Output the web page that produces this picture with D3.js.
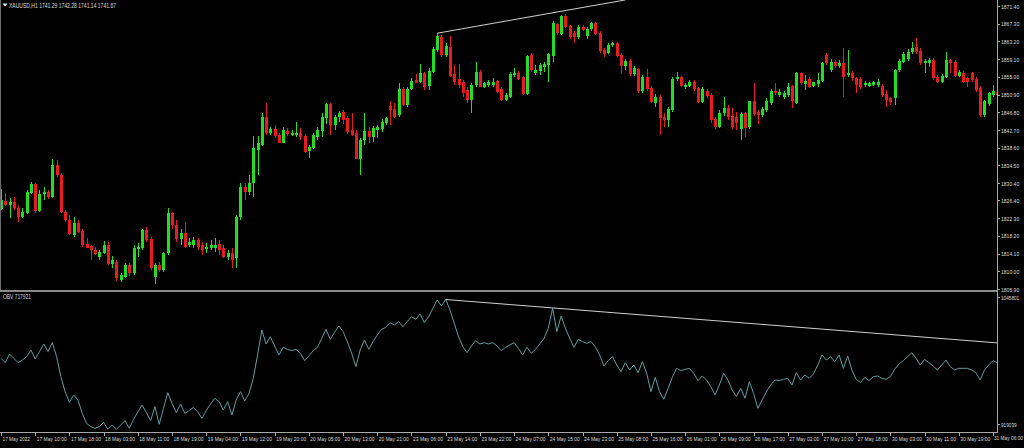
<!DOCTYPE html>
<html><head><meta charset="utf-8">
<script src="https://cdn.jsdelivr.net/npm/d3@7"></script>
<style>html,body{margin:0;padding:0;background:#000;overflow:hidden}svg{display:block}</style>
</head><body><svg id="c" width="1024" height="448"></svg>
<script>
// ---------- data ----------
const symbolLabel = "XAUUSD,H1";
const headerValues = "1741.29 1742.28 1741.14 1741.67";
const obvLabel = "OBV 717921";
const timeLabels = ["17 May 2022","17 May 10:00","17 May 18:00","18 May 03:00","18 May 11:00","18 May 19:00","19 May 04:00","19 May 12:00","19 May 20:00","20 May 05:00","20 May 13:00","20 May 21:00","23 May 06:00","23 May 14:00","23 May 22:00","24 May 07:00","24 May 15:00","24 May 23:00","25 May 08:00","25 May 16:00","26 May 01:00","26 May 09:00","26 May 17:00","27 May 02:00","27 May 10:00","27 May 18:00","30 May 03:00","30 May 11:00","30 May 19:00","31 May 06:00"];
const timeLabelStep = 8; // bars between time labels
const priceTicks = [1871.40,1867.30,1863.20,1859.10,1855.00,1850.90,1846.80,1842.70,1838.60,1834.50,1830.40,1826.40,1822.30,1818.20,1814.10,1810.00,1805.90];
const obvTicks = [1045801, 919039];

const open = [1824.4,1826.3,1825.3,1826.1,1824.6,1822.6,1823.6,1828.2,1830.2,1824.0,1827.8,1828.4,1827.3,1834.6,1832.3,1823.8,1821.9,1818.4,1821.2,1819.4,
1816.2,1815.8,1814.9,1813.4,1814.2,1816.1,1811.8,1812.2,1808.0,1808.7,1811.5,1809.5,1815.1,1815.3,1819.6,1817.4,1808.7,1811.5,1810.3,1814.2,
1823.4,1820.7,1817.4,1818.8,1816.1,1816.1,1817.2,1816.1,1815.1,1815.3,1815.3,1816.2,1815.5,1813.4,1814.2,1813.0,1822.6,1829.6,1828.4,1830.4,
1838.1,1839.2,1845.6,1842.1,1842.9,1841.5,1839.8,1842.5,1841.5,1841.5,1842.1,1841.3,1837.9,1838.5,1841.1,1842.5,1845.4,1848.7,1843.9,1845.6,
1846.9,1845.4,1842.7,1842.1,1836.1,1840.4,1842.5,1841.1,1842.7,1842.9,1844.3,1848.3,1847.5,1846.2,1852.1,1848.5,1852.3,1854.3,1853.9,1856.0,
1852.9,1856.2,1861.2,1864.2,1860.1,1862.0,1855.7,1854.4,1853.9,1852.0,1849.7,1853.1,1856.2,1852.7,1853.1,1853.1,1854.1,1852.1,1849.7,1850.4,
1855.4,1855.9,1854.9,1851.0,1860.1,1855.8,1856.4,1857.3,1857.7,1859.8,1867.2,1864.9,1869.1,1866.8,1865.2,1864.2,1866.5,1864.5,1866.0,1867.5,
1865.2,1861.2,1860.6,1862.4,1862.9,1860.1,1857.5,1858.7,1855.7,1856.8,1851.8,1854.9,1852.4,1849.0,1850.4,1845.8,1845.0,1847.3,1854.4,1854.9,
1852.6,1852.9,1853.9,1852.4,1849.2,1851.8,1850.8,1845.2,1843.5,1846.6,1847.7,1845.9,1845.8,1842.9,1846.6,1843.3,1849.3,1846.9,1846.2,1847.3,
1848.9,1851.8,1850.8,1850.3,1850.8,1852.9,1849.0,1855.8,1853.3,1854.4,1852.9,1853.4,1854.1,1860.1,1856.6,1858.5,1857.5,1858.1,1855.4,1856.0,
1854.7,1854.4,1853.0,1852.9,1853.1,1853.1,1852.9,1851.0,1850.0,1850.0,1856.6,1858.5,1859.1,1860.8,1861.8,1861.1,1858.3,1858.3,1858.9,1855.0,
1853.9,1855.0,1858.9,1858.5,1855.2,1856.0,1854.7,1855.8,1854.4,1852.4,1846.2,1848.7,1850.8,1851.6];
const high = [1829.0,1828.2,1827.0,1827.3,1825.3,1824.6,1828.8,1830.7,1830.5,1828.8,1829.6,1828.8,1835.9,1835.8,1832.7,1824.2,1823.0,1822.6,1821.9,1819.9,
1817.6,1816.1,1815.7,1814.9,1817.1,1816.8,1813.5,1812.6,1809.5,1811.9,1812.0,1816.1,1816.5,1819.9,1820.2,1817.9,1811.9,1812.2,1814.5,1824.6,
1823.8,1821.9,1819.9,1821.5,1817.6,1818.0,1817.6,1816.8,1816.5,1817.2,1817.6,1817.2,1816.1,1814.9,1815.3,1823.0,1830.4,1830.4,1832.3,1841.3,
1841.3,1846.7,1849.0,1843.5,1843.9,1842.1,1843.5,1843.1,1842.7,1844.6,1843.1,1841.8,1839.2,1841.9,1843.5,1846.7,1849.0,1849.0,1846.2,1847.2,
1847.3,1845.9,1846.7,1842.7,1840.8,1846.6,1843.5,1843.6,1843.9,1845.2,1845.8,1849.3,1848.9,1853.5,1852.7,1852.7,1854.7,1855.7,1858.0,1856.2,
1857.0,1862.0,1865.1,1864.7,1862.8,1864.5,1857.7,1858.0,1854.3,1852.6,1853.5,1858.5,1856.6,1853.8,1854.3,1854.7,1854.3,1852.6,1851.2,1856.2,
1857.0,1856.4,1855.2,1860.1,1860.6,1857.8,1858.3,1858.5,1860.6,1868.0,1867.5,1869.3,1869.5,1867.0,1865.7,1867.0,1867.0,1866.5,1867.8,1867.8,
1865.5,1861.6,1862.9,1863.1,1863.1,1860.5,1859.1,1859.1,1857.4,1857.0,1855.4,1856.8,1852.9,1851.0,1850.8,1846.6,1848.0,1855.0,1856.2,1855.2,
1853.5,1854.3,1854.3,1852.7,1852.6,1852.1,1851.2,1845.6,1847.3,1850.4,1848.5,1847.7,1846.9,1846.9,1846.9,1849.5,1853.5,1847.3,1848.0,1850.0,
1852.1,1853.5,1852.1,1851.8,1853.5,1853.1,1856.2,1856.2,1855.4,1855.0,1853.9,1855.8,1858.5,1860.6,1859.1,1858.9,1858.9,1861.6,1861.2,1856.4,
1855.0,1855.0,1854.0,1853.9,1854.1,1854.4,1853.3,1851.9,1850.4,1856.8,1859.1,1860.8,1861.4,1863.1,1863.9,1861.6,1859.1,1859.3,1859.3,1855.4,
1855.6,1860.8,1859.1,1858.9,1856.6,1856.4,1855.0,1856.2,1854.9,1852.9,1849.6,1851.6,1853.1,1852.1];
const low = [1824.2,1825.1,1822.3,1824.2,1821.5,1822.3,1823.3,1827.9,1823.4,1823.7,1826.5,1826.7,1827.0,1831.9,1823.4,1821.5,1818.4,1817.9,1818.8,1815.7,
1815.3,1812.6,1813.8,1812.6,1814.0,1811.5,1810.8,1807.8,1807.6,1808.4,1809.0,1809.1,1813.4,1814.9,1816.8,1810.3,1807.0,1809.9,1809.9,1813.8,
1819.9,1816.8,1816.1,1815.3,1815.7,1815.3,1814.9,1813.8,1814.2,1814.9,1814.5,1813.8,1813.0,1812.6,1810.7,1810.7,1821.9,1826.5,1827.7,1827.3,
1832.3,1839.0,1841.5,1841.5,1840.8,1839.6,1839.6,1841.3,1841.2,1841.0,1840.5,1837.3,1836.2,1838.2,1840.4,1841.0,1844.2,1841.5,1842.7,1844.6,
1844.2,1841.8,1841.2,1835.9,1832.3,1839.2,1839.6,1840.0,1840.8,1842.3,1843.9,1843.9,1845.4,1845.8,1848.3,1848.1,1852.0,1853.5,1853.5,1852.0,
1852.0,1855.8,1860.8,1859.7,1859.5,1854.9,1853.1,1852.4,1850.4,1848.9,1846.7,1852.7,1852.6,1852.4,1852.7,1852.6,1851.2,1849.3,1849.3,1850.0,
1855.0,1854.3,1850.8,1850.8,1856.2,1855.4,1855.4,1856.2,1853.7,1858.5,1864.7,1864.7,1866.2,1863.7,1862.8,1863.7,1865.5,1863.7,1865.7,1864.7,
1860.6,1859.5,1860.3,1862.0,1859.5,1855.7,1856.6,1855.2,1855.2,1851.3,1851.2,1851.8,1848.9,1848.0,1841.5,1843.5,1843.3,1846.9,1854.1,1852.6,
1852.1,1852.6,1851.8,1848.9,1849.0,1850.0,1844.4,1842.9,1843.1,1845.9,1845.0,1842.9,1842.7,1840.4,1841.0,1842.9,1845.9,1844.1,1845.6,1846.9,
1848.5,1850.8,1850.4,1849.8,1850.4,1847.7,1848.7,1853.1,1852.0,1852.4,1852.6,1852.7,1853.7,1857.8,1856.2,1857.0,1857.1,1850.4,1855.0,1854.1,
1851.2,1852.1,1852.7,1852.6,1852.9,1852.7,1850.4,1848.1,1848.5,1848.5,1856.2,1858.2,1858.7,1860.4,1860.4,1857.8,1855.8,1857.3,1854.3,1853.5,
1853.5,1854.7,1855.8,1854.9,1854.9,1853.5,1852.6,1853.9,1851.6,1845.6,1845.6,1848.3,1850.4,1850.4];
const close = [1826.5,1825.3,1826.1,1824.6,1822.6,1823.8,1828.4,1830.2,1824.0,1827.9,1828.3,1827.3,1834.6,1832.3,1823.8,1821.9,1818.6,1821.2,1819.2,1816.1,
1815.5,1814.9,1814.0,1814.5,1816.1,1811.8,1812.6,1808.4,1809.1,1811.5,1809.5,1815.3,1815.7,1819.6,1817.2,1810.7,1811.5,1810.2,1814.2,1823.4,
1820.7,1817.4,1818.8,1815.7,1816.8,1817.2,1815.7,1814.9,1815.7,1816.1,1816.1,1814.9,1813.4,1814.2,1812.6,1822.6,1829.6,1828.4,1830.4,1838.5,
1839.6,1845.6,1842.1,1842.9,1841.3,1839.8,1842.7,1841.8,1841.9,1841.9,1841.0,1837.7,1838.7,1841.5,1842.7,1845.6,1848.7,1843.9,1845.6,1846.7,
1845.0,1842.3,1841.5,1836.1,1840.5,1842.5,1841.1,1843.1,1843.5,1844.6,1845.4,1847.3,1845.6,1852.1,1848.5,1852.1,1854.1,1853.6,1856.0,1852.7,
1856.4,1861.4,1864.5,1860.1,1862.1,1855.2,1853.9,1853.1,1851.3,1849.7,1853.1,1856.2,1852.7,1853.5,1853.7,1853.9,1851.6,1849.7,1850.8,1855.7,
1855.9,1854.6,1851.0,1859.8,1856.6,1856.7,1857.8,1858.0,1860.3,1867.4,1865.1,1869.1,1866.6,1864.2,1864.2,1866.6,1865.9,1866.0,1867.4,1864.9,
1861.1,1860.4,1862.4,1862.9,1859.8,1857.5,1858.7,1855.7,1857.0,1851.8,1854.9,1852.1,1849.2,1850.4,1845.4,1845.0,1847.5,1854.4,1854.9,1852.9,
1853.1,1853.9,1852.1,1849.2,1852.1,1850.6,1844.9,1843.5,1846.7,1847.7,1845.6,1843.5,1844.3,1846.4,1843.1,1849.3,1846.4,1846.2,1847.5,1849.5,
1851.8,1851.3,1851.6,1851.2,1852.7,1849.3,1856.0,1853.5,1854.1,1852.7,1853.7,1854.3,1858.1,1858.1,1858.5,1857.4,1858.1,1855.0,1856.0,1854.7,
1853.1,1852.7,1853.5,1853.5,1853.7,1853.9,1850.8,1849.7,1849.2,1856.6,1858.7,1860.3,1860.8,1861.6,1860.8,1858.3,1858.7,1858.9,1854.7,1853.9,
1855.2,1858.9,1858.1,1855.2,1856.2,1853.9,1853.9,1854.3,1852.0,1846.2,1849.3,1851.2,1851.7,1850.8];
const obv = [987950,983730,992180,987950,983730,986330,989580,996080,987300,994450,1001930,994450,1003230,989580,970080,955450,945050,952200,947330,934330,
924580,921330,919700,921330,925550,918730,922950,918730,922950,927180,919700,928480,935630,942450,934980,927180,940830,923600,939200,954480,
944080,934980,943430,934330,936930,940180,935950,929450,936930,943430,948950,945700,937580,945700,932700,947330,955450,946350,953830,968450,
991200,1015580,1001930,1009080,999980,991200,998680,996730,995430,996730,992830,985680,990230,995430,998680,1007450,1016230,1006480,1013300,1019480,
1013950,1004200,992830,979830,996080,1005830,996730,1004200,1010700,1016230,1018180,1022730,1020450,1023700,1018830,1023700,1028580,1025980,1031180,1022730,
1028580,1036700,1044830,1038980,1045480,1035080,1022080,1009080,999330,993480,999980,1005180,1001930,1003230,1001930,1003230,999980,995430,998680,1000950,
1003230,997700,991200,998680,992830,996730,1001930,1007450,1017200,1036700,1013950,1029230,1017200,1007450,998680,1006480,1004200,1002580,1004200,999330,
991200,980480,985680,989580,981450,974950,983730,976580,981450,973980,984700,973330,955450,969430,955450,947980,958700,969430,978200,975930,
977230,978200,973330,966180,970730,966830,960330,952200,961950,973330,966830,957080,950580,958700,948950,965200,953830,939200,947330,955450,
961950,966830,966180,967480,968450,961950,973980,966830,971700,968450,972680,981450,991200,986330,989580,984700,991200,978200,990230,976580,
967480,964230,969430,966180,970080,970730,968450,967480,970080,977230,982430,985680,989580,993480,987950,981450,986980,983730,980480,976580,
981450,986330,979830,976580,978200,978200,978200,976580,973980,966830,976580,981450,985680,983730];
const priceTrend = [[102, 1865.1], [146, 1872.8]];   // [bar index, price]
const obvTrend = [[104, 1045300], [233, 1003000]];   // [bar index, OBV]

// ---------- layout ----------
const W = 1024, H = 448;
const plotL = 0, plotR = 997;
const mainT = 0, mainB = 290;
const obvT = 293, obvB = 432;
const axisFont = "'Liberation Sans', Arial, sans-serif";
const textCol = "#dcdcdc", axisCol = "#a8a8a8";
const bullCol = "#22dd22", bearCol = "#e81c1c", obvCol = "#5f9ea0", trendCol = "#cfcfcf";

const svg = d3.select("#c");
svg.append("rect").attr("width", W).attr("height", H).attr("fill", "#000");

const n = open.length;
const x = d3.scaleLinear().domain([0, n - 1]).range([1, 1 + (n - 1) * 4.276]);
const y = d3.scaleLinear().domain([1805.9, 1871.4]).range([289, 6]);
const yo = d3.scaleLinear().domain([919039, 1045801]).range([429, 299]);

const defs = svg.append("defs");
defs.append("clipPath").attr("id", "cm").append("rect").attr("x", plotL).attr("y", mainT).attr("width", plotR - plotL).attr("height", mainB - mainT);
defs.append("clipPath").attr("id", "co").append("rect").attr("x", plotL).attr("y", obvT).attr("width", plotR - plotL).attr("height", obvB - obvT);

// candles
const gC = svg.append("g").attr("clip-path", "url(#cm)").attr("shape-rendering", "crispEdges");
const idx = d3.range(n);
gC.selectAll("rect.w").data(idx).join("rect").attr("class", "w")
  .attr("x", i => Math.round(x(i)))
  .attr("width", 1)
  .attr("y", i => Math.round(y(high[i])))
  .attr("height", i => Math.max(1, Math.round(y(low[i])) - Math.round(y(high[i]))))
  .attr("fill", i => close[i] >= open[i] ? bullCol : bearCol);
gC.selectAll("rect.b").data(idx).join("rect").attr("class", "b")
  .attr("x", i => Math.round(x(i)) - 1)
  .attr("width", 3)
  .attr("y", i => Math.round(y(Math.max(open[i], close[i]))))
  .attr("height", i => Math.max(1, Math.round(y(Math.min(open[i], close[i]))) - Math.round(y(Math.max(open[i], close[i])))))
  .attr("fill", i => close[i] >= open[i] ? bullCol : bearCol);

// price trendline (clipped at the panel top)
gC.append("line")
  .attr("x1", x(priceTrend[0][0])).attr("y1", y(priceTrend[0][1]))
  .attr("x2", x(priceTrend[1][0])).attr("y2", y(priceTrend[1][1]))
  .attr("stroke", trendCol).attr("stroke-width", 1).attr("shape-rendering", "auto");

// OBV line
const gO = svg.append("g").attr("clip-path", "url(#co)");
gO.append("path").datum(obv)
  .attr("d", d3.line().x((d, i) => x(i)).y(d => yo(d)))
  .attr("fill", "none").attr("stroke", obvCol).attr("stroke-width", 1);
gO.append("line")
  .attr("x1", x(obvTrend[0][0])).attr("y1", yo(obvTrend[0][1]))
  .attr("x2", x(obvTrend[1][0])).attr("y2", yo(obvTrend[1][1]))
  .attr("stroke", trendCol).attr("stroke-width", 1);

// frame lines
const gF = svg.append("g").attr("shape-rendering", "crispEdges");
gF.append("rect").attr("x", 0).attr("y", 290).attr("width", plotR + 1).attr("height", 2).attr("fill", "#8a8a8a");
gF.append("line").attr("x1", plotR + 0.5).attr("x2", plotR + 0.5).attr("y1", 0).attr("y2", obvB + 1).attr("stroke", axisCol);
gF.append("line").attr("x1", 0).attr("x2", plotR + 1).attr("y1", obvB + 0.5).attr("y2", obvB + 0.5).attr("stroke", axisCol);
gF.append("line").attr("x1", 0.5).attr("x2", 0.5).attr("y1", 0).attr("y2", mainB).attr("stroke", "#6a6a6a");

// price axis
const pAxis = d3.axisRight(y).tickValues(priceTicks).tickSize(3).tickFormat(d3.format(".2f"));
const gP = svg.append("g").attr("transform", `translate(${plotR},0)`).call(pAxis);
const oAxis = d3.axisRight(yo).tickValues(obvTicks).tickSize(3).tickFormat(d3.format("d"));
const gOA = svg.append("g").attr("transform", `translate(${plotR},0)`).call(oAxis);
// OBV labels sit inside the panel edges
gOA.selectAll(".tick").attr("transform", d => `translate(0,${d === obvTicks[0] ? 297.5 : 424.5})`);
[gP, gOA].forEach(g => {
  g.select(".domain").remove();
  g.selectAll("line").attr("stroke", axisCol).attr("shape-rendering", "crispEdges");
  g.selectAll("text").attr("fill", textCol).attr("font-family", axisFont).attr("font-size", 5.8)
    .attr("x", 4).attr("dy", "0.35em")
    .attr("textLength", function () { return this.textContent.length * 2.6; })
    .attr("lengthAdjust", "spacingAndGlyphs");
});

// time axis
const tickIdx = timeLabels.map((t, k) => k * timeLabelStep);
const tAxis = d3.axisBottom(x).tickValues(tickIdx).tickSize(3).tickFormat((d, k) => timeLabels[k]);
const gT = svg.append("g").attr("transform", `translate(0,${obvB + 1})`).call(tAxis);
gT.select(".domain").remove();
gT.selectAll("line").attr("stroke", axisCol).attr("shape-rendering", "crispEdges");
gT.selectAll("text").attr("fill", textCol).attr("font-family", axisFont).attr("font-size", 5.4)
  .attr("text-anchor", "start").attr("x", 1).attr("y", 4).attr("dy", "0.71em")
  .attr("textLength", function () { return this.textContent.length * 2.5; })
  .attr("lengthAdjust", "spacingAndGlyphs");
// the last label is drawn a touch smaller so it fits inside the window's right edge
gT.selectAll(".tick").filter((d, k, arr) => k === arr.length - 1).select("text")
  .attr("textLength", null).attr("lengthAdjust", null).attr("font-size", 4.8)
  .attr("text-anchor", "end").attr("x", W - 1.5 - x(tickIdx[tickIdx.length - 1]));

// header
svg.append("path").attr("d", "M2.5,3.5 L7.5,3.5 L5,6.5 Z").attr("fill", "#e8e8e8");
const hdr = symbolLabel + "  " + headerValues;
svg.append("text").attr("x", 9).attr("y", 7.5).text(hdr)
  .attr("fill", textCol).attr("font-family", axisFont).attr("font-size", 6.5)
  .attr("textLength", 107).attr("lengthAdjust", "spacingAndGlyphs");
svg.append("text").attr("x", 3).attr("y", 299).text(obvLabel)
  .attr("fill", textCol).attr("font-family", axisFont).attr("font-size", 6.5)
  .attr("textLength", 28).attr("lengthAdjust", "spacingAndGlyphs");
</script></body></html>
